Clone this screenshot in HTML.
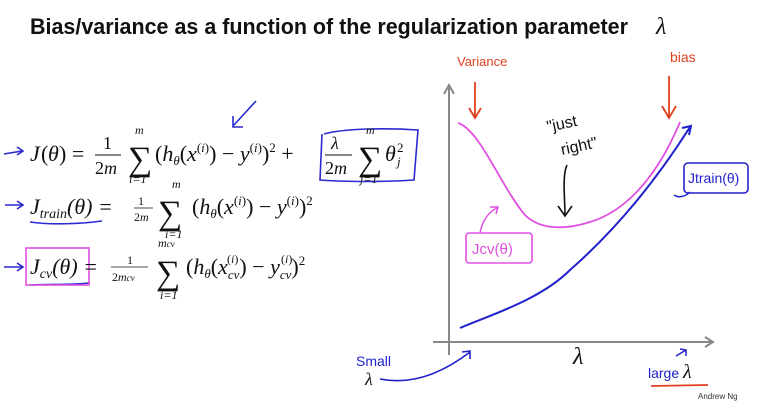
<!DOCTYPE html>
<html><head><meta charset="utf-8"><style>
html,body{margin:0;padding:0;background:#fff;width:759px;height:405px;overflow:hidden}
svg{display:block}
.m{font-family:"Liberation Serif",serif;font-style:italic;fill:#111}
.r{font-family:"Liberation Serif",serif;fill:#111}
.h{font-family:"Liberation Sans",sans-serif}
</style></head><body>
<svg width="759" height="405" viewBox="0 0 759 405" xmlns="http://www.w3.org/2000/svg">
<text x="30" y="34" class="h" font-weight="bold" font-size="22" fill="#111" textLength="598" lengthAdjust="spacingAndGlyphs">Bias/variance as a function of the regularization parameter</text>
<text x="656" y="34" class="m" font-size="24">λ</text>

<g fill="none" stroke="#2a2ad0" stroke-width="1.6">
<path d="M4 154 L22 151 M17 147 L23 151 L17 155"/>
<path d="M5 205 L22 205 M17 201 L23 205 L17 209"/>
<path d="M4 267 L22 267 M17 263 L23 267 L17 271"/>
<path d="M256 101 L233 126 M233 116 L233 127 L243 127"/>
<path d="M324 134 C345 128 390 128 418 130 L414 180 C385 182 345 182 320 180 L322 134"/>
<path d="M30 222 C50 225 80 224 102 221"/>
<path d="M30 285 C50 284 70 285 90 283"/>
</g>
<rect x="26" y="248" width="63" height="37" fill="none" stroke="#e050e0" stroke-width="1.6"/>

<text x="30" y="161" class="m" font-size="22">J</text><text x="41" y="161" class="r" font-size="22">(</text><text x="48" y="161" class="m" font-size="22">θ</text><text x="59" y="161" class="r" font-size="22">) =</text>
<text x="103" y="149" class="r" font-size="18">1</text><line x1="95" y1="155" x2="121" y2="155" stroke="#111" stroke-width="1"/><text x="95" y="174" class="r" font-size="18">2<tspan class="m">m</tspan></text>
<text x="128" y="170" class="r" font-size="34">∑</text><text x="135" y="134" class="m" font-size="12">m</text><text x="129" y="183" class="m" font-size="12">i<tspan class="r">=1</tspan></text>
<text x="155" y="161" class="r" font-size="22">(<tspan class="m">h</tspan><tspan class="m" font-size="13" dy="4">θ</tspan><tspan dy="-4">(</tspan><tspan class="m">x</tspan><tspan font-size="13" dy="-9">(<tspan class="m">i</tspan>)</tspan><tspan dy="9">) − </tspan><tspan class="m">y</tspan><tspan font-size="13" dy="-9">(<tspan class="m">i</tspan>)</tspan><tspan dy="9">)</tspan><tspan font-size="13" dy="-9">2</tspan><tspan dy="9"> +</tspan></text>
<text x="331" y="149" class="m" font-size="18">λ</text><line x1="325" y1="155" x2="352" y2="155" stroke="#111" stroke-width="1"/><text x="325" y="174" class="r" font-size="18">2<tspan class="m">m</tspan></text>
<text x="358" y="170" class="r" font-size="34">∑</text><text x="366" y="134" class="m" font-size="12">m</text><text x="360" y="183" class="m" font-size="12">j<tspan class="r">=1</tspan></text>
<text x="385" y="161" class="m" font-size="22">θ</text><text x="397" y="152" class="r" font-size="13">2</text><text x="397" y="166" class="m" font-size="13">j</text>

<text x="30" y="214" class="m" font-size="22">J<tspan font-size="14" dy="4">train</tspan><tspan class="r" dy="-4">(</tspan>θ<tspan class="r">) =</tspan></text>
<text x="138" y="205" class="r" font-size="12">1</text><line x1="134" y1="208" x2="153" y2="208" stroke="#111" stroke-width="0.8"/><text x="134" y="221" class="r" font-size="12">2<tspan class="m">m</tspan></text>
<text x="158" y="224" class="r" font-size="34">∑</text><text x="172" y="188" class="m" font-size="12">m</text><text x="165" y="238" class="m" font-size="12">i<tspan class="r">=1</tspan></text>
<text x="192" y="214" class="r" font-size="22">(<tspan class="m">h</tspan><tspan class="m" font-size="13" dy="4">θ</tspan><tspan dy="-4">(</tspan><tspan class="m">x</tspan><tspan font-size="13" dy="-9">(<tspan class="m">i</tspan>)</tspan><tspan dy="9">) − </tspan><tspan class="m">y</tspan><tspan font-size="13" dy="-9">(<tspan class="m">i</tspan>)</tspan><tspan dy="9">)</tspan><tspan font-size="13" dy="-9">2</tspan></text>

<text x="30" y="274" class="m" font-size="22">J<tspan font-size="14" dy="4">cv</tspan><tspan class="r" dy="-4">(</tspan>θ<tspan class="r">) =</tspan></text>
<text x="127" y="264" class="r" font-size="12">1</text><line x1="111" y1="267" x2="148" y2="267" stroke="#111" stroke-width="0.8"/><text x="112" y="281" class="r" font-size="12">2<tspan class="m">m<tspan font-size="9">cv</tspan></tspan></text>
<text x="156" y="284" class="r" font-size="34">∑</text><text x="158" y="247" class="m" font-size="12">m<tspan font-size="9">cv</tspan></text><text x="160" y="299" class="m" font-size="12">i<tspan class="r">=1</tspan></text>
<text x="186" y="274" class="r" font-size="22">(<tspan class="m">h</tspan><tspan class="m" font-size="13" dy="4">θ</tspan><tspan dy="-4">(</tspan><tspan class="m">x</tspan><tspan class="m" font-size="13" dy="5">cv</tspan><tspan dy="-5">) − </tspan><tspan class="m">y</tspan><tspan class="m" font-size="13" dy="5">cv</tspan><tspan dy="-5">)</tspan><tspan font-size="13" dy="-9">2</tspan></text>
<text x="227" y="263" class="r" font-size="12">(<tspan class="m">i</tspan>)</text><text x="281" y="263" class="r" font-size="12">(<tspan class="m">i</tspan>)</text>

<g stroke="#888" stroke-width="2" fill="none">
<path d="M449 355 L449 86 M444 94 L449 85 L454 94"/>
<path d="M433 342 L713 342 M705 337 L713 342 L705 347"/>
</g>
<path d="M458 123 C480 130 500 185 525 215 C540 230 565 230 590 222 C630 210 660 170 680 122" fill="none" stroke="#e050e0" stroke-width="1.8"/>
<path d="M460 328 C490 315 540 300 570 270 C610 235 650 190 690 127 M682 128 L691 126 L689 135" fill="none" stroke="#2222cc" stroke-width="2"/>
<text x="457" y="66" class="h" font-size="13" fill="#e04020">Variance</text>
<path d="M475 82 L475 116 M469 108 L475 118 L481 108" fill="none" stroke="#e04020" stroke-width="1.8"/>
<text x="670" y="62" class="h" font-size="14" fill="#e04020">bias</text>
<path d="M669 76 L669 116 M662 106 L669 118 L676 106" fill="none" stroke="#e04020" stroke-width="1.8"/>
<text x="548" y="132" class="h" font-size="16" fill="#111" transform="rotate(-12 548 132)">"just</text>
<text x="562" y="155" class="h" font-size="16" fill="#111" transform="rotate(-12 562 155)">right"</text>
<path d="M567 165 C562 175 565 200 565 215 M558 206 L565 216 L572 206" fill="none" stroke="#111" stroke-width="1.6"/>
<rect x="466" y="233" width="66" height="30" rx="3" fill="none" stroke="#e050e0" stroke-width="1.6"/>
<text x="472" y="254" class="h" font-size="15" fill="#e050e0">Jcv(θ)</text>
<path d="M480 233 C482 222 488 212 497 208 M490 207 L498 207 L496 214" fill="none" stroke="#e050e0" stroke-width="1.5"/>
<rect x="684" y="163" width="64" height="30" rx="4" fill="none" stroke="#2222cc" stroke-width="1.6"/>
<text x="688" y="183" class="h" font-size="14" fill="#2222cc">Jtrain(θ)</text>
<path d="M690 192 C685 197 678 198 674 195" fill="none" stroke="#2222cc" stroke-width="1.5"/>
<text x="573" y="364" class="m" font-size="24">λ</text>
<text x="648" y="378" class="h" font-size="14" fill="#2222cc">large <tspan class="m" font-size="20">λ</tspan></text>
<path d="M651 386 L708 385" stroke="#e04020" stroke-width="1.8"/>
<path d="M676 356 L686 350 M680 349 L686 350 L686 356" fill="none" stroke="#2222cc" stroke-width="1.5"/>
<text x="356" y="366" class="h" font-size="14" fill="#2222cc">Small</text>
<text x="365" y="385" class="m" font-size="18" fill="#2222cc">λ</text>
<path d="M380 379 C410 385 440 375 470 352 M462 352 L470 351 L470 359" fill="none" stroke="#2222cc" stroke-width="1.6"/>
<text x="698" y="399" class="h" font-size="8" fill="#333">Andrew Ng</text>
</svg>
</body></html>
